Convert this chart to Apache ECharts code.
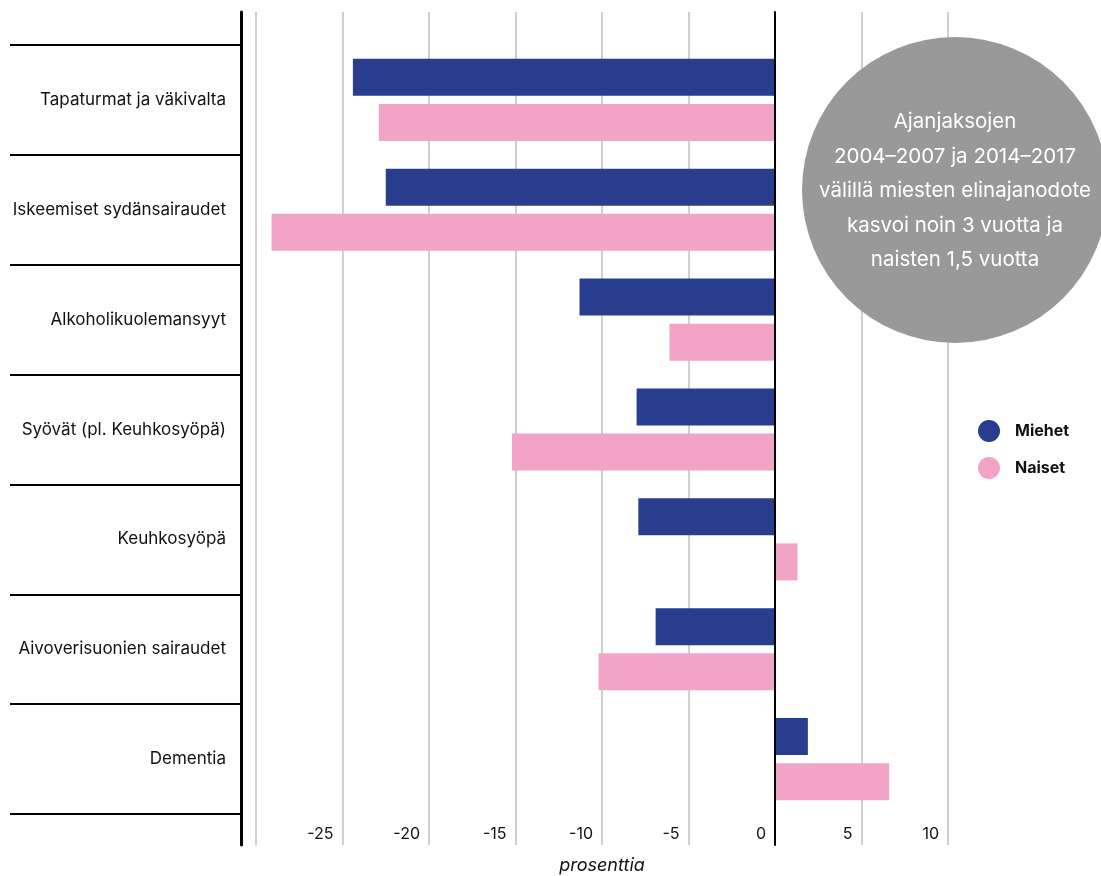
<!DOCTYPE html>
<html>
<head>
<meta charset="utf-8">
<script src="https://cdn.jsdelivr.net/npm/echarts@6/dist/echarts.min.js"></script>
<style>
  html, body { margin: 0; padding: 0; background: #ffffff; }
  #chart { width: 1101px; height: 876px; }
</style>
</head>
<body>
<div id="chart"></div>
<script>
const categories = [
  'Tapaturmat ja väkivalta',
  'Iskeemiset sydänsairaudet',
  'Alkoholikuolemansyyt',
  'Syövät (pl. Keuhkosyöpä)',
  'Keuhkosyöpä',
  'Aivoverisuonien sairaudet',
  'Dementia'
];
const seriesNames = ['Miehet', 'Naiset'];
const miehet = [-24.4, -22.5, -11.3, -8.0, -7.9, -6.9, 1.9];
const naiset = [-22.9, -29.1, -6.1, -15.2, 1.3, -10.2, 6.6];
const xMin = -30, xMax = 10, xStep = 5;
const axisName = 'prosenttia';
const noteLines = [
  'Ajanjaksojen',
  '2004–2007 ja 2014–2017',
  'välillä miesten elinajanodote',
  'kasvoi noin 3 vuotta ja',
  'naisten 1,5 vuotta'
];

const FONT = 'Inter, "Noto Sans", sans-serif';
const chart = echarts.init(document.getElementById('chart'));

const option = {
  animation: false,
  backgroundColor: '#ffffff',
  textStyle: { fontFamily: FONT },
  grid: [
    { left: 256, right: 153, top: 12, bottom: 31, containLabel: false, outerBoundsMode: 'none' },
    { left: 256, right: 153, top: 45, bottom: 62, containLabel: false, outerBoundsMode: 'none' }
  ],
  xAxis: [
    {
      gridIndex: 0, type: 'value', min: xMin, max: xMax, interval: xStep,
      name: axisName, nameLocation: 'middle', nameGap: 12,
      nameTextStyle: { fontFamily: FONT, fontStyle: 'italic', fontSize: 18, color: '#111' },
      axisLine: { show: false }, axisTick: { show: false },
      splitLine: { show: true, lineStyle: { color: '#cfcfcf', width: 2 } },
      axisLabel: {
        inside: true, showMinLabel: false, align: 'right', verticalAlign: 'middle',
        margin: 11, padding: [0, 9, 0, 0],
        fontFamily: FONT, fontSize: 16, color: '#111'
      }
    },
    {
      gridIndex: 1, type: 'value', min: xMin, max: xMax, interval: xStep, show: false
    }
  ],
  yAxis: [
    {
      gridIndex: 0, type: 'value', min: 0, max: 1, position: 'left', offset: 15,
      axisLine: { show: true, onZero: false, lineStyle: { color: '#000', width: 3 } },
      axisTick: { show: false }, axisLabel: { show: false }, splitLine: { show: false }, z: 5
    },
    {
      gridIndex: 0, type: 'value', min: 0, max: 1, position: 'left',
      axisLine: { show: true, onZero: true, lineStyle: { color: '#000', width: 2 } },
      axisTick: { show: false }, axisLabel: { show: false }, splitLine: { show: false }, z: 5
    },
    {
      gridIndex: 1, type: 'category', data: categories, inverse: true, offset: 15,
      position: 'left',
      axisLine: { show: false, onZero: false },
      axisTick: { show: true, length: 231, alignWithLabel: false, lineStyle: { color: '#000', width: 2 } },
      axisLabel: { margin: 15, fontFamily: FONT, fontSize: 17, color: '#111' },
      splitLine: { show: false }
    }
  ],
  legend: {
    data: seriesNames, orient: 'vertical', left: 973, top: 415,
    icon: 'circle', itemWidth: 22, itemHeight: 22, itemGap: 15,
    textStyle: { fontFamily: FONT, fontWeight: 'bold', fontSize: 16, color: '#111', padding: [0, 0, 0, 10] },
    selectedMode: false
  },
  series: [
    {
      name: seriesNames[0], type: 'bar', xAxisIndex: 1, yAxisIndex: 2,
      data: miehet, barWidth: 37, barGap: '22%',
      itemStyle: { color: '#293d8f' }
    },
    {
      name: seriesNames[1], type: 'bar', xAxisIndex: 1, yAxisIndex: 2,
      data: naiset, barWidth: 37, barGap: '22%',
      itemStyle: { color: '#f2a4c8' }
    }
  ],
  graphic: [
    {
      type: 'circle', z: 10,
      shape: { cx: 955, cy: 190, r: 153 },
      style: { fill: '#999999' }
    },
    {
      type: 'text', z: 11, x: 955, y: 191,
      style: {
        text: noteLines.join('\n'), fill: '#ffffff',
        font: '20.5px ' + FONT, align: 'center', verticalAlign: 'middle', lineHeight: 34.5
      }
    }
  ]
};
chart.setOption(option);
</script>
</body>
</html>
